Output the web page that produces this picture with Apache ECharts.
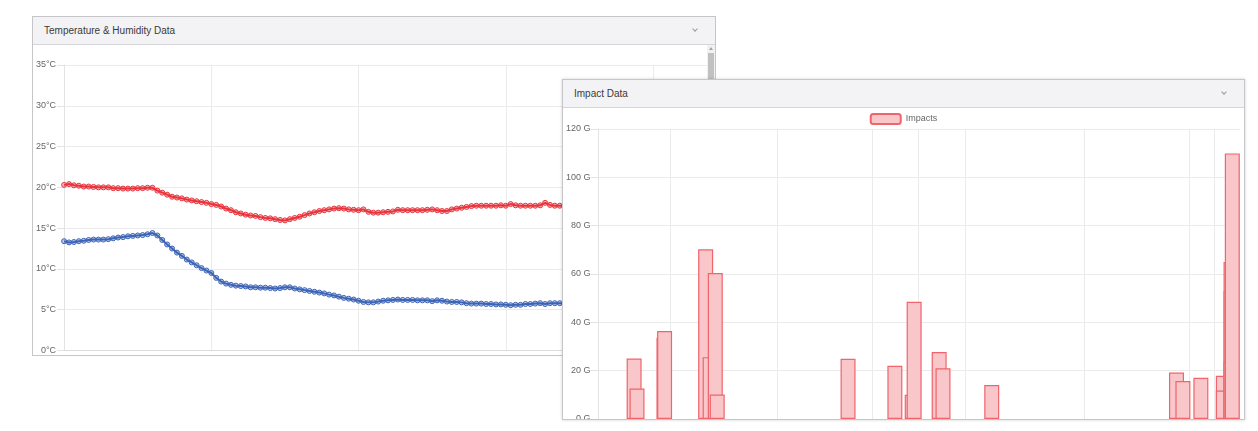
<!DOCTYPE html>
<html><head><meta charset="utf-8">
<script src="https://cdn.jsdelivr.net/npm/echarts@6/dist/echarts.min.js"></script>
<style>
html,body{margin:0;padding:0;background:#fff;width:1258px;height:431px;overflow:hidden;font-family:"Liberation Sans",Arial,sans-serif;}
.panel{position:absolute;background:#fff;border:1px solid #c6c6ca;box-sizing:border-box;overflow:hidden;}
.hdr{position:absolute;left:0;top:0;right:0;height:28px;background:#f3f3f5;border-bottom:1px solid #d6d6da;box-sizing:border-box;font-size:10px;color:#3a3a3a;line-height:28px;padding-left:11px;}
.chev{position:absolute;right:18px;top:10px;width:3px;height:3px;border-right:1px solid #9a9a9a;border-bottom:1px solid #9a9a9a;transform:rotate(45deg);}
#p1{left:32px;top:16px;width:684px;height:340px;z-index:1;}
#p2{left:562px;top:79px;width:683px;height:341px;z-index:2;box-shadow:0 0 3px rgba(0,0,0,0.18);}
#c1{position:absolute;left:0;top:28px;width:674px;height:310px;}
#c2{position:absolute;left:0;top:28px;width:681px;height:330px;}
#sb{position:absolute;left:674px;top:28px;width:8px;height:310px;background:#f1f1f1;}
#sbthumb{position:absolute;left:1px;top:8px;width:6px;height:280px;background:#c1c1c1;}
#sbup{position:absolute;left:2px;top:2px;width:0;height:0;border-left:2px solid transparent;border-right:2px solid transparent;border-bottom:3px solid #a3a3a3;}
</style></head>
<body>
<div class="panel" id="p1">
  <div class="hdr">Temperature &amp; Humidity Data<div class="chev"></div></div>
  <div id="c1"></div>
  <div id="sb"><div id="sbup"></div><div id="sbthumb"></div></div>
</div>
<div class="panel" id="p2">
  <div class="hdr">Impact Data<div class="chev"></div></div>
  <div id="c2"></div>
</div>
<script>
// ---- Temperature & Humidity data (sample index based x) ----
const tempRed = [20.3,20.4,20.25,20.2,20.1,20.1,20.05,20.0,20.0,20.0,19.9,19.9,19.85,19.85,19.85,19.9,19.9,19.95,19.95,19.6,
19.35,19.1,18.85,18.75,18.65,18.5,18.4,18.3,18.2,18.1,17.95,17.85,17.65,17.4,17.2,16.95,16.8,16.65,16.55,16.5,
16.35,16.25,16.2,16.1,16.0,15.95,16.1,16.25,16.4,16.6,16.8,16.95,17.1,17.2,17.3,17.4,17.45,17.4,17.3,17.25,
17.2,17.3,17.0,16.9,16.9,16.95,17.0,17.05,17.25,17.2,17.2,17.2,17.2,17.2,17.25,17.3,17.2,17.1,17.1,17.3,
17.4,17.5,17.6,17.7,17.75,17.75,17.75,17.75,17.75,17.8,17.75,17.95,17.8,17.75,17.75,17.75,17.75,17.8,18.1,17.85,
17.75,17.75,17.75,17.8,17.8,17.8];
const tempBlue = [13.4,13.25,13.3,13.4,13.45,13.55,13.6,13.6,13.6,13.65,13.75,13.85,13.9,14.0,14.05,14.1,14.15,14.25,14.4,14.1,
13.55,13.0,12.5,12.0,11.6,11.15,10.8,10.45,10.1,9.8,9.5,8.9,8.45,8.2,8.05,7.95,7.9,7.85,7.75,7.75,
7.7,7.7,7.65,7.6,7.65,7.75,7.75,7.6,7.5,7.4,7.3,7.2,7.1,7.0,6.85,6.75,6.6,6.45,6.35,6.25,
6.1,5.95,5.9,5.9,6.0,6.1,6.15,6.2,6.25,6.2,6.2,6.2,6.15,6.15,6.15,6.05,6.15,6.1,6.0,5.95,
5.95,5.9,5.8,5.75,5.75,5.75,5.7,5.7,5.65,5.65,5.6,5.55,5.6,5.6,5.7,5.7,5.75,5.8,5.7,5.8,
5.8,5.8,5.8,5.8,5.8,5.8];
const tempTicks = [0,5,10,15,20,25,30,35];

// ---- Impact data ----
const impactTimes  = [5.55,6.0,10.2,10.3,16.7,17.4,18.2,18.5,38.9,46.2,48.9,49.2,53.1,53.7,61.3,90.1,91.1,93.9,97.4,97.4,98.6,98.6,98.6,98.8];
const impactValues = [25,12.6,33.6,36.4,70.2,25.6,60.4,10.1,24.9,22,10,48.5,27.7,21,14.1,19.2,15.7,17.1,17.9,11.8,65,52.9,23.7,109.9];
const impactGridTimes = [11.2,27.8,42.6,49.8,57.2,75.7,92.1,96.0];
const impactTicks = [0,20,40,60,80,100,120];

const labelStyle = {color:'#666', fontSize:9, fontFamily:'Liberation Sans, Arial, sans-serif'};
const gridCol = '#ebebeb';

const c1 = echarts.init(document.getElementById('c1'));
c1.setOption({
  animation:false,
  grid:{left:30,right:0,top:20,bottom:3},
  xAxis:{type:'value',min:0,max:131,interval:30,
    axisLabel:{show:false},axisTick:{show:false},
    axisLine:{lineStyle:{color:'#dcdcdc'}},
    splitLine:{show:true,lineStyle:{color:gridCol}}},
  yAxis:{type:'value',min:tempTicks[0],max:tempTicks[tempTicks.length-1],interval:5,
    axisLabel:Object.assign({formatter:'{value}°C',margin:8},labelStyle),
    axisTick:{show:true,length:7,lineStyle:{color:'#e3e3e3'}},
    axisLine:{show:true,lineStyle:{color:'#e3e3e3'}},
    splitLine:{lineStyle:{color:gridCol}}},
  series:[
    {type:'line',data:tempRed.map((v,i)=>[i,v]),symbol:'circle',symbolSize:5,showAllSymbol:true,
     lineStyle:{color:'#e8343c',width:2},
     itemStyle:{color:'rgba(232,52,60,0.35)',borderColor:'#e8343c',borderWidth:1}},
    {type:'line',data:tempBlue.map((v,i)=>[i,v]),symbol:'circle',symbolSize:5,showAllSymbol:true,
     lineStyle:{color:'#3d64b6',width:2},
     itemStyle:{color:'rgba(61,100,182,0.35)',borderColor:'#3d64b6',borderWidth:1}}
  ]
});

const c2 = echarts.init(document.getElementById('c2'));
c2.setOption({
  animation:false,
  legend:{top:0,left:'center',itemWidth:30,itemHeight:10,itemGap:4,
    textStyle:labelStyle,data:['Impacts']},
  grid:{left:34,right:4,top:21,bottom:19},
  xAxis:{type:'value',min:0,max:100,
    axisLabel:{show:false},axisTick:{show:false},
    axisLine:{lineStyle:{color:'#dcdcdc'}},
    splitLine:{show:false}},
  yAxis:{type:'value',min:impactTicks[0],max:impactTicks[impactTicks.length-1],interval:20,
    axisLabel:Object.assign({formatter:'{value} G',margin:8},labelStyle),
    axisTick:{show:true,length:8,lineStyle:{color:'#e3e3e3'}},
    axisLine:{show:true,lineStyle:{color:'#e3e3e3'}},
    splitLine:{lineStyle:{color:gridCol}}},
  series:[
    {type:'line',data:[],silent:true,
     markLine:{silent:true,symbol:['none','none'],label:{show:false},z:0,
       lineStyle:{color:gridCol,type:'solid',width:1},
       data:impactGridTimes.map(t=>({xAxis:t}))}},
    {name:'Impacts',type:'bar',barWidth:15,z:3,
     data:impactTimes.map((t,i)=>[t,impactValues[i]]),
     itemStyle:{color:'#f9c7ca',borderColor:'#f0646b',borderWidth:1.2}}
  ]
});
</script>
</body></html>
